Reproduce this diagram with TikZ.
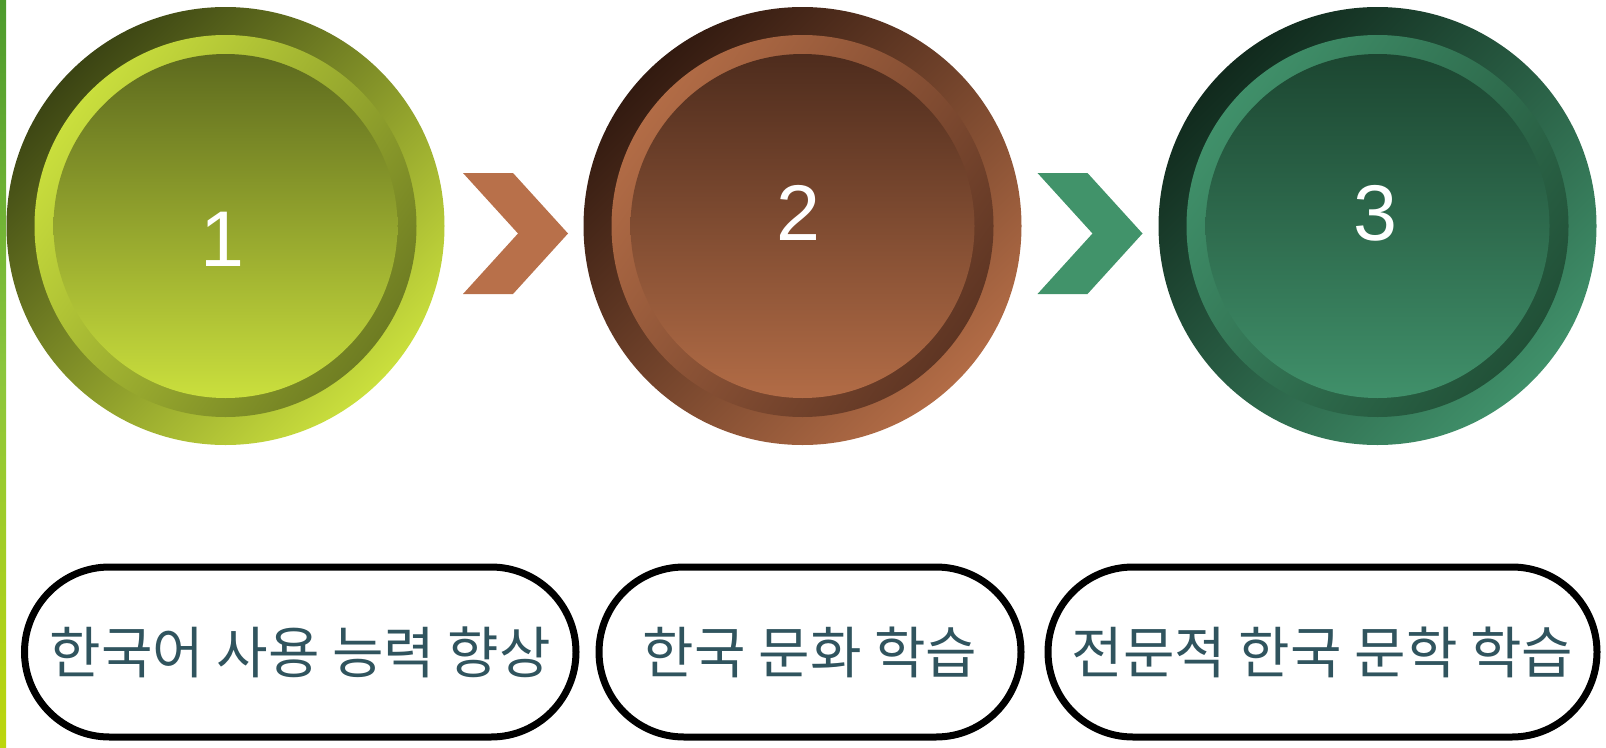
\documentclass[tikz,border=0pt]{standalone}
\usepackage{fontspec}
\setmainfont{Liberation Sans}
\newfontfamily\krfont{Noto Sans CJK KR}
\definecolor{gdark}{HTML}{3B4413}
\definecolor{glight}{HTML}{CADF3D}
\definecolor{gtop}{HTML}{5D6A1E}
\definecolor{gmid}{HTML}{6E7C22}
\definecolor{bdark}{HTML}{321A10}
\definecolor{blight}{HTML}{B26C46}
\definecolor{btop}{HTML}{4E2C1D}
\definecolor{bmid}{HTML}{5E3523}
\definecolor{edark}{HTML}{112A1D}
\definecolor{elight}{HTML}{40906A}
\definecolor{etop}{HTML}{1C4631}
\definecolor{emid}{HTML}{215037}
\definecolor{chevb}{HTML}{B8704A}
\definecolor{cheve}{HTML}{41936A}
\definecolor{pilltext}{HTML}{30545E}
\definecolor{stripT}{HTML}{4C9A2C}
\definecolor{stripM}{HTML}{8CC63C}
\definecolor{stripB}{HTML}{BCD60C}
\tikzset{
  disc/.style={circle, inner sep=0pt, outer sep=0pt, draw=none},
  outerdisc/.style 2 args={disc, minimum size=438pt, top color=#1, bottom color=#2, shading angle=45},
  middisc/.style 2 args={disc, minimum size=382pt, top color=#1, bottom color=#2, shading angle=55},
  innerdisc/.style 2 args={disc, minimum size=344pt, top color=#1, bottom color=#2},
  numtext/.style={text=white, font=\fontsize{79}{79}\selectfont, inner sep=0pt},
  pill/.style={draw=black, line width=7pt, fill=white, rounded corners=85pt,
    minimum height=170pt, inner sep=0pt, text=pilltext,
    font=\krfont\fontsize{56}{64}\selectfont},
  chev/.pic={\fill[pic actions] (0,0) -- (50,0) -- (105,60.5) -- (50,121) -- (0,121) -- (55,60.5) -- cycle;}
}
\begin{document}
\begin{tikzpicture}[x=1pt, y=-1pt]
\useasboundingbox (0,0) rectangle (1606,747);
\fill[white] (0,0) rectangle (1606,747);
% left strip
\shade[top color=stripT, bottom color=stripB, middle color=stripM] (0,0) rectangle (6,747);

% circle 1
\node[outerdisc={gdark}{glight}] (c1) at (225.5,226) {};
\node[middisc={glight}{gmid}] (m1) at (c1.center) {};
\node[innerdisc={gtop}{glight}] (i1) at (c1.center) {};
\node[numtext] (n1) at (222,239) {1};

% circle 2
\node[outerdisc={bdark}{blight}] (c2) at (802.5,226) {};
\node[middisc={blight}{bmid}] (m2) at (c2.center) {};
\node[innerdisc={btop}{blight}] (i2) at (c2.center) {};
\node[numtext] (n2) at (798,213) {2};

% circle 3
\node[outerdisc={edark}{elight}] (c3) at (1377.5,226) {};
\node[middisc={elight}{emid}] (m3) at (c3.center) {};
\node[innerdisc={etop}{elight}] (i3) at (c3.center) {};
\node[numtext] (n3) at (1375,213) {3};

% chevrons
\pic[fill=chevb] at (463,173) {chev};
\pic[fill=cheve] at (1037.5,173) {chev};

% pills
\node[pill, minimum width=551.5pt] (p1) at (300.25,652) {\raisebox{-2pt}{한국어 사용 능력 향상}};
\node[pill, minimum width=422pt] (p2) at (810,652) {\raisebox{-2pt}{한국 문화 학습}};
\node[pill, minimum width=549pt] (p3) at (1322.5,652) {\raisebox{-2pt}{전문적 한국 문학 학습}};
\end{tikzpicture}
\end{document}
